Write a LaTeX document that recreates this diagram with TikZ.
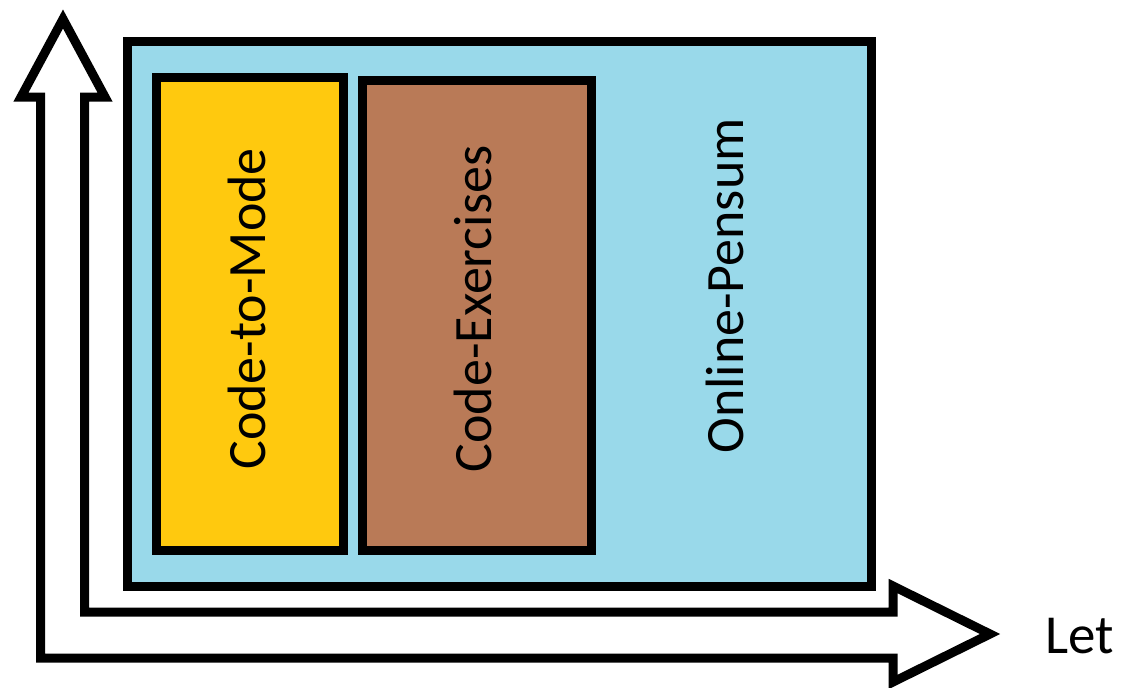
\documentclass[tikz,border=0pt]{standalone}
\usepackage{fontspec}
\setmainfont{Carlito}
\definecolor{paintblue}{HTML}{99D9EA}
\definecolor{paintgold}{HTML}{FFC90E}
\definecolor{paintbrown}{HTML}{B97A57}
\begin{document}
\begin{tikzpicture}[x=1pt,y=-1pt,
  box/.style={draw=black,line width=9pt,line join=miter},
  lbl/.style={font=\fontsize{54}{60}\selectfont,text=black,inner sep=0pt},
  vlbl/.style={lbl,rotate=90},
  axis/.style={draw=black,line width=9pt,line join=miter,fill=white}]
\useasboundingbox (0,0) rectangle (1138,688);
% axes outline (L-shaped double arrow)
\draw[axis] (63,19) -- (105,97) -- (84.5,97) -- (84.5,612) -- (893,612)
  -- (893,586) -- (990,634) -- (893,682) -- (893,658) -- (40.5,658)
  -- (40.5,97) -- (21,97) -- cycle;
% containers
\draw[box,fill=paintblue] (127.5,41.5) rectangle (871.5,586);
\draw[box,fill=paintgold] (156.5,77.5) rectangle (343.5,550);
\draw[box,fill=paintbrown] (362.5,80.5) rectangle (591.5,550);
% labels
\node[vlbl] (ctm) at (247,309) {Code-to-Mode};
\node[vlbl] (cex) at (473,309) {Code-Exercises};
\node[vlbl] (onp) at (725,286) {Online-Pensum};
\node[lbl,font=\fontsize{55}{60}\selectfont,anchor=base west] (let) at (1045,653) {Let};
\end{tikzpicture}
\end{document}
